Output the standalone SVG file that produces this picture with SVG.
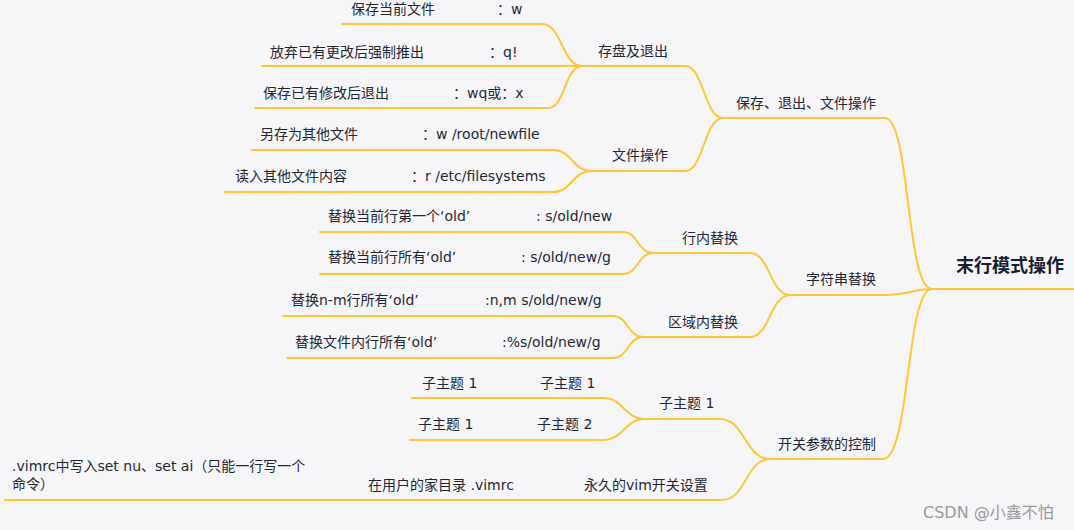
<svg xmlns="http://www.w3.org/2000/svg" width="1074" height="530" viewBox="0 0 1074 530">
<style>
text{font-family:"DejaVu Sans","Noto Sans CJK SC",sans-serif;font-size:14px;fill:#1f2636}
.root{font-size:18px;font-weight:bold;fill:#162033}
.wm{font-size:16px;fill:#9a9a9a}
.ul,.cn{stroke:#ffc63a;stroke-width:2;fill:none;stroke-linecap:round}
</style>
<rect width="1074" height="530" fill="#f6f6f8"/>
<g id="connectors">
<path class="cn" d="M542 24 C562 24 562 66 582 66"/>
<path class="cn" d="M548 66 L582 66"/>
<path class="cn" d="M548 108 C565 108 565 66 582 66"/>
<path class="cn" d="M685 66 C704 66 704 118 723 118"/>
<path class="cn" d="M553 150 C572 150 572 171 592 171"/>
<path class="cn" d="M553 192 C572 192 572 171 592 171"/>
<path class="cn" d="M685 171 C704 171 704 118 723 118"/>
<path class="cn" d="M885 118 C910 118 906 289 932 289"/>
<path class="cn" d="M623 232 C638 232 638 253 653 253"/>
<path class="cn" d="M623 274 C638 274 638 253 653 253"/>
<path class="cn" d="M750 253 C770 253 770 295 790 295"/>
<path class="cn" d="M613 316 C628 316 628 337 643 337"/>
<path class="cn" d="M613 358 C628 358 628 337 643 337"/>
<path class="cn" d="M750 337 C770 337 770 295 790 295"/>
<path class="cn" d="M887 295 C910 295 910 289 932 289"/>
<path class="cn" d="M603 398 C624 398 624 419 645 419"/>
<path class="cn" d="M603 440 C624 440 624 419 645 419"/>
<path class="cn" d="M720 419 C745 419 745 459 770 459"/>
<path class="cn" d="M722 500 C746 500 746 459 770 459"/>
<path class="cn" d="M883 459 C910 459 906 289 932 289"/>
</g>
<g id="root"><text class="root" x="956" y="271.5">末行模式操作</text><line class="ul" x1="932" y1="289" x2="1074" y2="289"/></g>
<g id="n-save-exit-file"><text x="736" y="108.3">保存、退出、文件操作</text><line class="ul" x1="723" y1="118" x2="885" y2="118"/></g>
<g id="n-save-exit"><text x="598" y="55.7">存盘及退出</text><line class="ul" x1="582" y1="66" x2="685" y2="66"/></g>
<g id="n-w"><text x="497" y="13.5">：w</text><line class="ul" x1="497" y1="24" x2="542" y2="24"/></g>
<g id="n-save-cur"><text x="351" y="13.5">保存当前文件</text><line class="ul" x1="342" y1="24" x2="497" y2="24"/></g>
<g id="n-q"><text x="489" y="56.7">：q!</text><line class="ul" x1="487" y1="66" x2="548" y2="66"/></g>
<g id="n-force-quit"><text x="270" y="56.7">放弃已有更改后强制推出</text><line class="ul" x1="262" y1="66" x2="487" y2="66"/></g>
<g id="n-wq"><text x="453" y="97.7">：wq或：x</text><line class="ul" x1="452" y1="108" x2="548" y2="108"/></g>
<g id="n-save-quit"><text x="263" y="97.7">保存已有修改后退出</text><line class="ul" x1="255" y1="108" x2="452" y2="108"/></g>
<g id="n-file-op"><text x="612" y="160">文件操作</text><line class="ul" x1="592" y1="171" x2="685" y2="171"/></g>
<g id="n-w-root"><text x="422" y="139">：w /root/newfile</text><line class="ul" x1="422" y1="150" x2="553" y2="150"/></g>
<g id="n-save-as"><text x="260" y="139">另存为其他文件</text><line class="ul" x1="252" y1="150" x2="422" y2="150"/></g>
<g id="n-r-etc"><text x="411" y="181">：r /etc/filesystems</text><line class="ul" x1="411" y1="192" x2="553" y2="192"/></g>
<g id="n-read"><text x="235" y="181">读入其他文件内容</text><line class="ul" x1="225" y1="192" x2="411" y2="192"/></g>
<g id="n-str-replace"><text x="806" y="284">字符串替换</text><line class="ul" x1="790" y1="295" x2="887" y2="295"/></g>
<g id="n-line-replace"><text x="682" y="242.7">行内替换</text><line class="ul" x1="653" y1="253" x2="750" y2="253"/></g>
<g id="n-s-first"><text x="536" y="220.7">: s/old/new</text><line class="ul" x1="530" y1="232" x2="623" y2="232"/></g>
<g id="n-first-old"><text x="328" y="220.7">替换当前行第一个‘old’</text><line class="ul" x1="320" y1="232" x2="530" y2="232"/></g>
<g id="n-s-all"><text x="521" y="262.3">: s/old/new/g</text><line class="ul" x1="515" y1="274" x2="623" y2="274"/></g>
<g id="n-all-old"><text x="328" y="262.3">替换当前行所有‘old’</text><line class="ul" x1="320" y1="274" x2="515" y2="274"/></g>
<g id="n-area-replace"><text x="668" y="326.7">区域内替换</text><line class="ul" x1="643" y1="337" x2="750" y2="337"/></g>
<g id="n-nm"><text x="485" y="305">:n,m s/old/new/g</text><line class="ul" x1="480" y1="316" x2="613" y2="316"/></g>
<g id="n-nm-old"><text x="291" y="305">替换n-m行所有‘old’</text><line class="ul" x1="283" y1="316" x2="480" y2="316"/></g>
<g id="n-pct"><text x="502" y="346.7">:%s/old/new/g</text><line class="ul" x1="495" y1="358" x2="613" y2="358"/></g>
<g id="n-file-old"><text x="295" y="346.7">替换文件内行所有‘old’</text><line class="ul" x1="287" y1="358" x2="495" y2="358"/></g>
<g id="n-switch"><text x="778" y="449">开关参数的控制</text><line class="ul" x1="770" y1="459" x2="883" y2="459"/></g>
<g id="n-sub-l2"><text x="659" y="408">子主题 1</text><line class="ul" x1="645" y1="419" x2="720" y2="419"/></g>
<g id="n-sub-a2"><text x="540" y="387.7">子主题 1</text><line class="ul" x1="530" y1="398" x2="603" y2="398"/></g>
<g id="n-sub-a1"><text x="422" y="387.7">子主题 1</text><line class="ul" x1="412" y1="398" x2="530" y2="398"/></g>
<g id="n-sub-b2"><text x="537" y="429">子主题 2</text><line class="ul" x1="528" y1="440" x2="603" y2="440"/></g>
<g id="n-sub-b1"><text x="418" y="429">子主题 1</text><line class="ul" x1="410" y1="440" x2="528" y2="440"/></g>
<g id="n-perm"><text x="584" y="490">永久的vim开关设置</text><line class="ul" x1="575" y1="500" x2="722" y2="500"/></g>
<g id="n-home"><text x="368" y="490">在用户的家目录 .vimrc</text><line class="ul" x1="360" y1="500" x2="575" y2="500"/></g>
<g id="n-vimrc"><text x="12" y="471">.vimrc中写入set nu、set ai（只能一行写一个</text><text x="12" y="489">命令）</text><line class="ul" x1="5" y1="500" x2="360" y2="500"/></g>
<text class="wm" x="923" y="518">CSDN @小鑫不怕</text>
</svg>
